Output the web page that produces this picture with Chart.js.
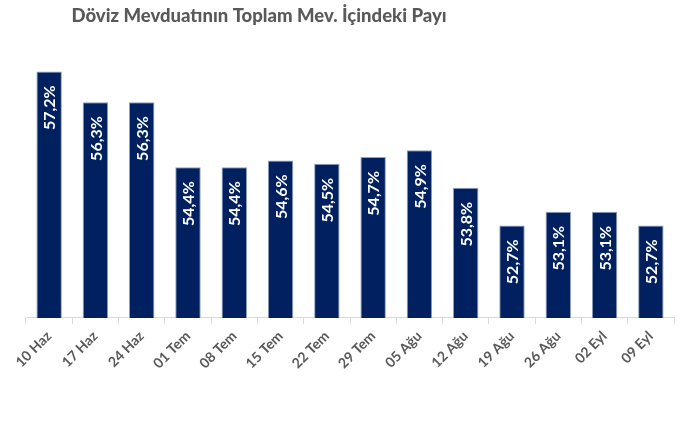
<!DOCTYPE html>
<html>
<head>
<meta charset="utf-8">
<script src="https://cdn.jsdelivr.net/npm/chart.js@4/dist/chart.umd.min.js"></script>
<style>
  html, body { margin: 0; padding: 0; background: #ffffff; }
  #wrap { width: 687px; height: 428px; }
</style>
</head>
<body>
<div id="wrap"><canvas id="chart"></canvas></div>
<script>
const weeks = ['10 Haz', '17 Haz', '24 Haz', '01 Tem', '08 Tem', '15 Tem', '22 Tem',
  '29 Tem', '05 Ağu', '12 Ağu', '19 Ağu', '26 Ağu', '02 Eyl', '09 Eyl'];
const fxShare = [57.2, 56.3, 56.3, 54.4, 54.4, 54.6, 54.5, 54.7, 54.9, 53.8, 52.7, 53.1, 53.1, 52.7];
const axisMin = 50;
const axisMax = 58;
const chartTitle = 'Döviz Mevduatının Toplam Mev. İçindeki Payı';

const fontFamily = "Lato, 'Open Sans', sans-serif";

// title sits left of centre in the original, so draw it by hand
const titleText = {
  id: 'titleText',
  afterDraw(chart) {
    const ctx = chart.ctx;
    ctx.save();
    ctx.fillStyle = '#595959';
    ctx.font = "900 18.5px " + fontFamily;
    ctx.textAlign = 'center';
    ctx.textBaseline = 'middle';
    ctx.fillText(chartTitle, 259, 16);
    ctx.restore();
  }
};

// white rotated value labels at the top inside each bar
const insideLabels = {
  id: 'insideLabels',
  afterDatasetsDraw(chart) {
    const ctx = chart.ctx;
    const meta = chart.getDatasetMeta(0);
    ctx.save();
    ctx.fillStyle = '#ffffff';
    ctx.font = "bold 16px " + fontFamily;
    ctx.textAlign = 'right';
    ctx.textBaseline = 'middle';
    meta.data.forEach((bar, i) => {
      const txt = fxShare[i].toFixed(1).replace('.', ',') + '%';
      ctx.save();
      ctx.translate(bar.x, bar.y + 14);
      ctx.rotate(-Math.PI / 2);
      ctx.fillText(txt, 0, 1);
      ctx.restore();
    });
    ctx.restore();
  }
};

new Chart(document.getElementById('chart').getContext('2d'), {
  type: 'bar',
  data: {
    labels: weeks,
    datasets: [{
      data: fxShare,
      backgroundColor: '#002060',
      borderColor: '#8fa0c0',
      borderWidth: 1,
      barPercentage: 0.55,
      categoryPercentage: 1
    }]
  },
  options: {
    responsive: true,
    maintainAspectRatio: false,
    animation: false,
    layout: { padding: { left: 26, right: 13, top: 44, bottom: 52 } },
    scales: {
      x: {
        grid: {
          offset: true,
          drawOnChartArea: false,
          color: '#d9d9d9',
          tickLength: 6
        },
        border: { color: '#d9d9d9', width: 1 },
        ticks: {
          color: '#595959',
          minRotation: 45,
          maxRotation: 45,
          padding: 4,
          font: { family: fontFamily, size: 14, weight: 'bold' }
        }
      },
      y: {
        display: false,
        min: axisMin,
        max: axisMax
      }
    },
    plugins: {
      legend: { display: false },
      tooltip: { enabled: false },
      title: { display: false }
    }
  },
  plugins: [insideLabels, titleText]
});
</script>
</body>
</html>
